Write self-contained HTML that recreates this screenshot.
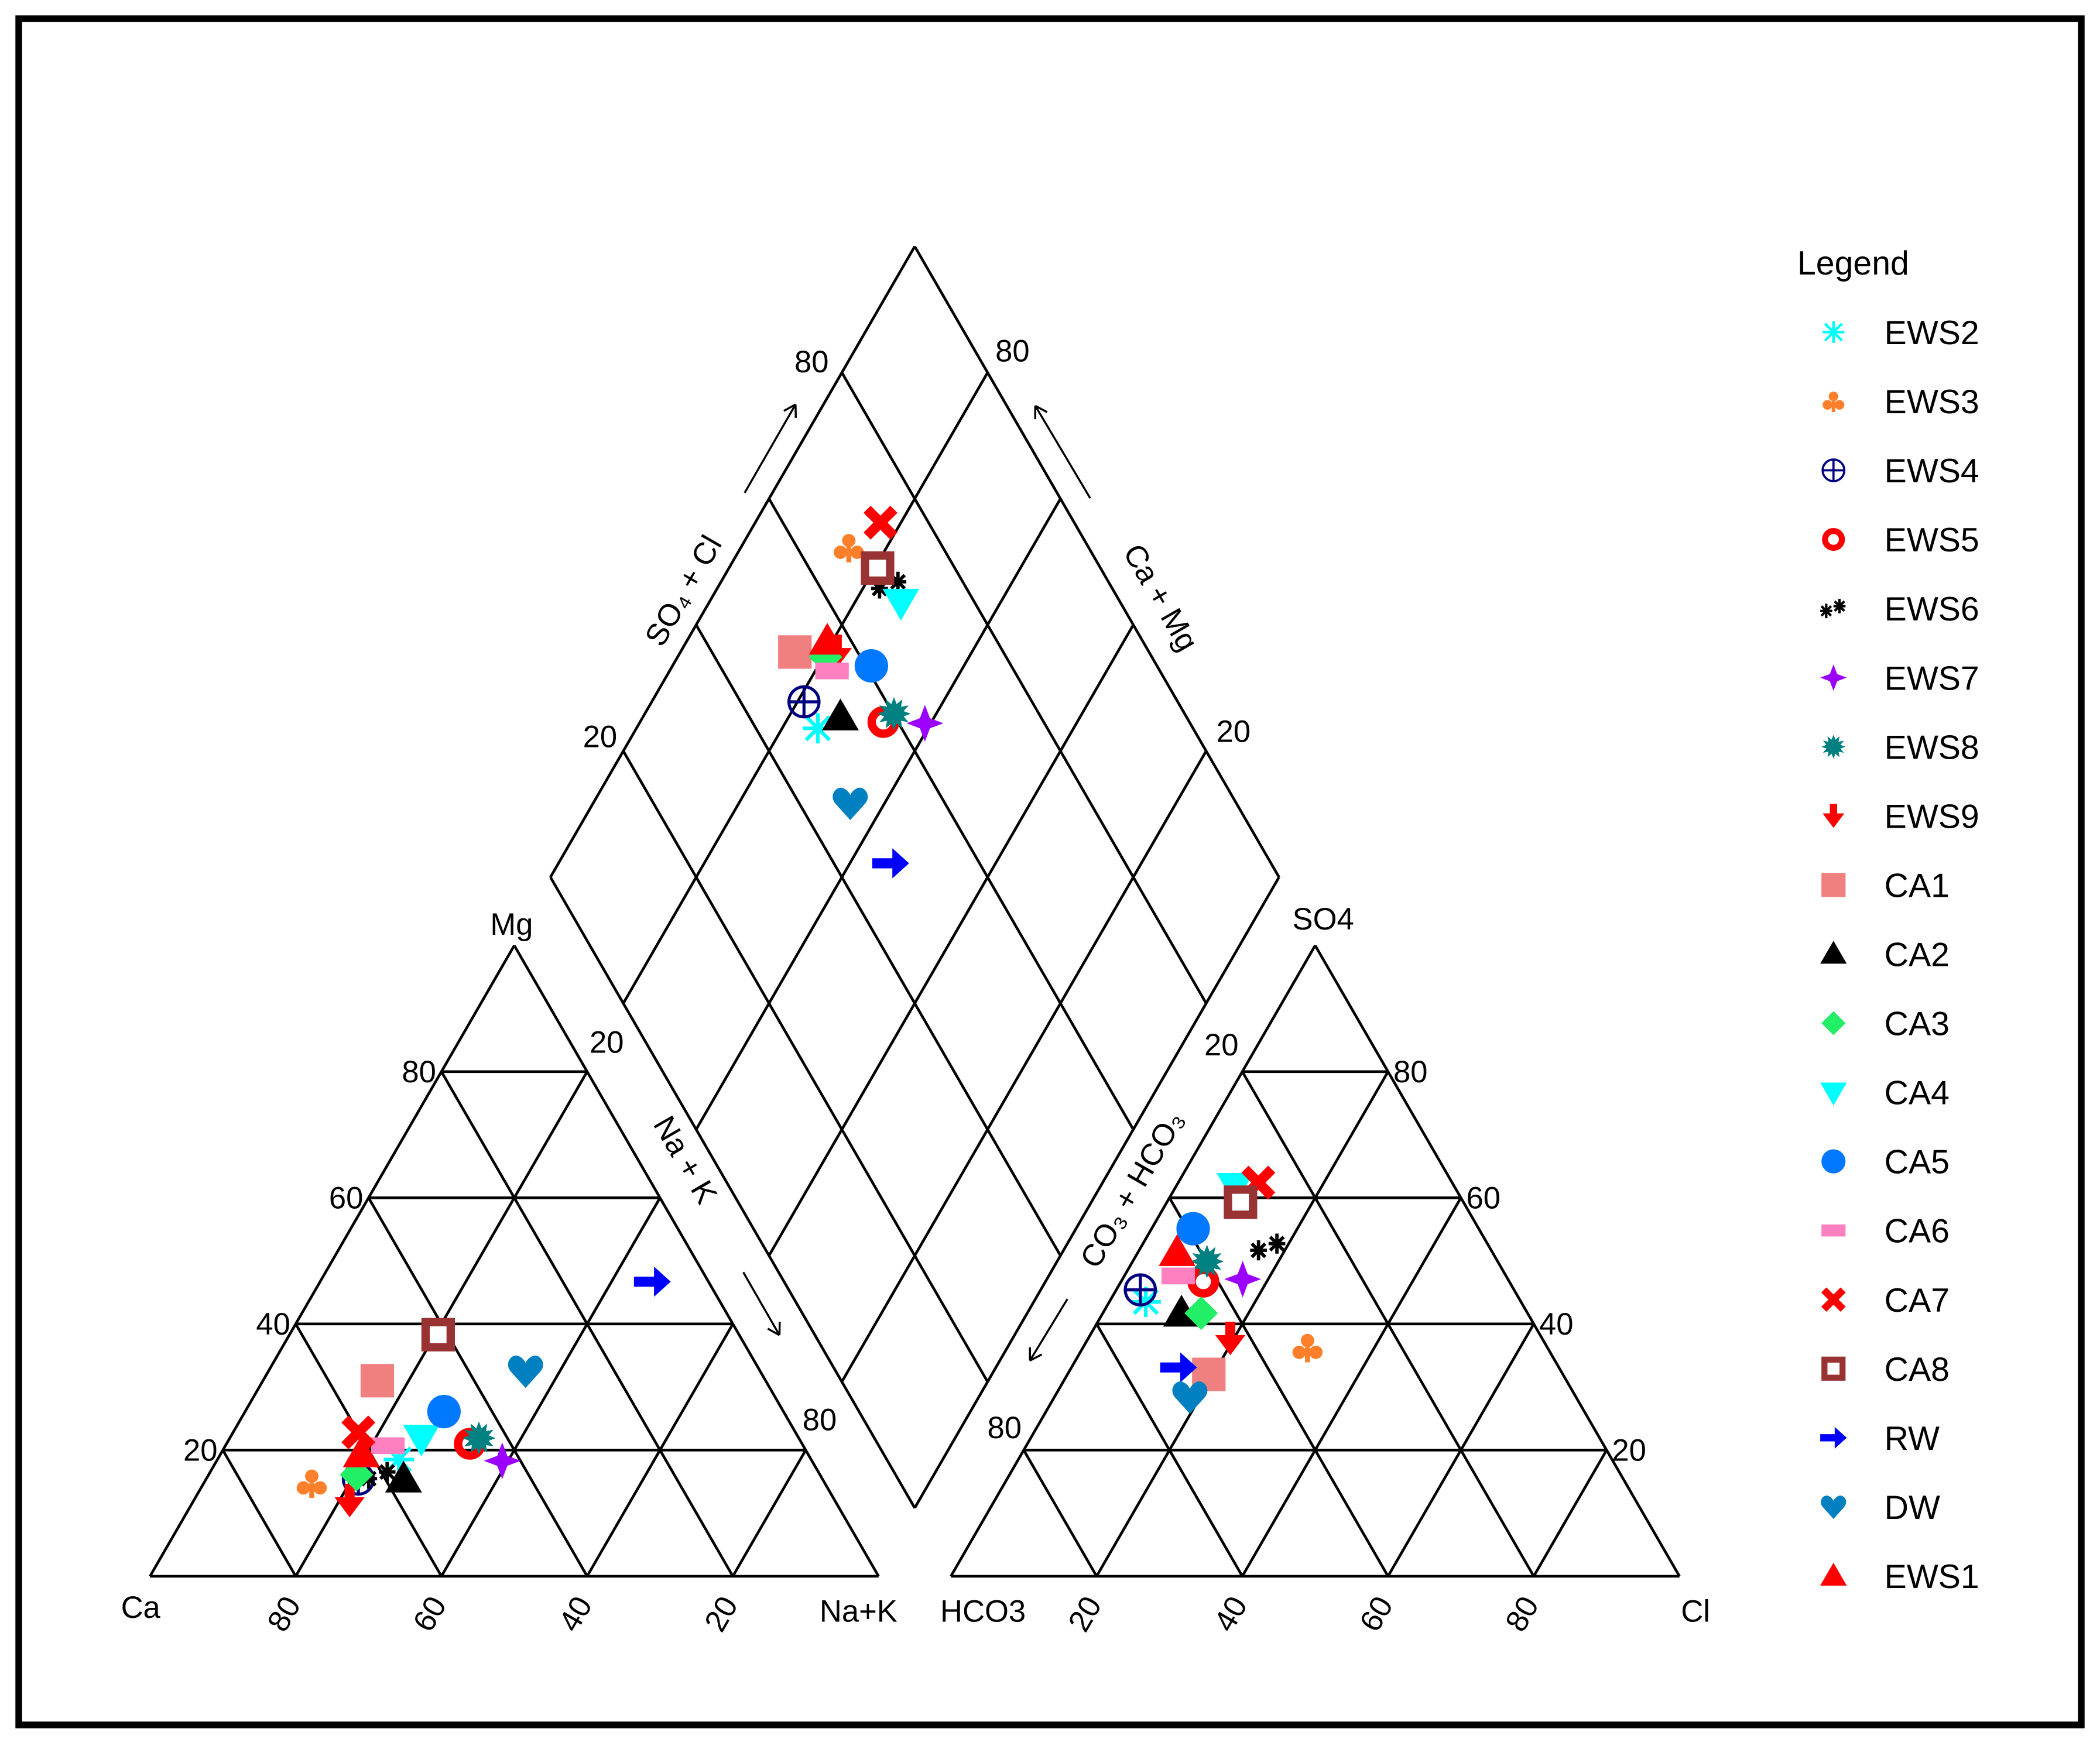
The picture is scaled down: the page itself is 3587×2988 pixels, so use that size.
<!DOCTYPE html>
<html><head><meta charset="utf-8"><style>
html,body{margin:0;padding:0;background:#fff}
svg{display:block}
text{font-family:"Liberation Sans",Arial,sans-serif;fill:#000}
</style></head><body>
<svg id="chart" width="3587" height="2988" viewBox="0 0 1568 1306" preserveAspectRatio="none" xmlns="http://www.w3.org/2000/svg">
<rect x="14" y="14" width="1540" height="1274" fill="#fff" stroke="#000" stroke-width="5"/>
<g id="grid" stroke="#000" stroke-width="2" fill="none"></g>
<g id="labels" font-size="23"></g>
<g id="marks"></g>
<g id="legend"></g>
</svg>
<script>
const sampleNames = ["EWS2","EWS3","EWS4","EWS5","EWS6","EWS7","EWS8","EWS9","CA1","CA2","CA3","CA4","CA5","CA6","CA7","CA8","RW","DW","EWS1"];
const mgPct  = [18.5,14.8,15.4,21.0,16.0,18.3,21.9,12.0,31.0,15.4,16.1,21.9,26.1,20.7,22.8,38.3,46.7,32.5,19.4];
const nakPct = [24.9,14.8,20.9,33.4,23.4,39.2,34.2,21.4,15.7,27.1,20.3,26.3,27.3,22.3,17.2,20.4,45.6,35.3,19.3];
const so4Pct = [43.5,36.3,45.4,46.7,52.2,47.1,49.9,37.7,32.0,41.7,41.7,61.8,55.1,47.6,62.4,59.3,33.1,28.4,51.3];
const clPct  = [5.0,30.8,3.3,11.3,17.5,16.5,10.2,19.5,19.4,10.8,13.5,8.1,5.7,7.4,11.0,10.1,14.7,18.6,5.4];
const markerTypes = ["xstar","club","circplus","ring","aster","star4","burst","downarrow","square","triangle","diamond","invtri","circle","pinkrect","cross","hollowsq","rightarrow","heart","triangle"];
const markerColors = ["#00ffff","#ff7f2a","#000080","#ff0000","#000000","#9b00ff","#008080","#ff0000","#f08080","#000000","#22ee66","#00ffff","#0078ff","#ff80c0","#ff0000","#993333","#0000ff","#0080c0","#ff0000"];
const tickValues = [20,40,60,80];

const NS="http://www.w3.org/2000/svg";
function cat(m,n){return [112+544*(n+m/2),1177-471*m];}
function an(s,c){return [710+544*(c+s/2),1177-471*s];}
function dia(a,n){return [411+272*(a+n),655-471*(a-n)];}
function el(tag,attrs,parent){const e=document.createElementNS(NS,tag);for(const k in attrs)e.setAttribute(k,attrs[k]);parent.appendChild(e);return e;}

const grid=document.getElementById('grid');
function line(p,q,name){const l=el('line',{x1:p[0],y1:p[1],x2:q[0],y2:q[1]},grid);

}
line(cat(0,0),cat(0,1),'cation-base');line(cat(0,0),cat(1,0),'cation-left');line(cat(0,1),cat(1,0),'cation-right');
line(an(0,0),an(0,1),'anion-base');line(an(0,0),an(1,0),'anion-left');line(an(0,1),an(1,0),'anion-right');
line(dia(0,0),dia(1,0),'diamond-edge');line(dia(1,0),dia(1,1),'diamond-edge');line(dia(1,1),dia(0,1),'diamond-edge');line(dia(0,1),dia(0,0),'diamond-edge');
for(const t of tickValues){const f=t/100;
 line(cat(f,0),cat(f,1-f),'cation-grid');line(cat(0,f),cat(1-f,f),'cation-grid');line(cat(0,1-f),cat(1-f,0),'cation-grid');
 line(an(f,0),an(f,1-f),'anion-grid');line(an(0,f),an(1-f,f),'anion-grid');line(an(0,1-f),an(1-f,0),'anion-grid');
 line(dia(f,0),dia(f,1),'diamond-grid');line(dia(0,f),dia(1,f),'diamond-grid');}

const labels=document.getElementById('labels');
function txt(x,y,s,name,rot,anchor){const t=el('text',{x:x,y:y,'text-anchor':anchor||'middle'},labels);t.textContent=s;
if(rot)t.setAttribute('transform','rotate('+rot+' '+x+' '+y+')');

return t;}
txt(382,698,'Mg','mg-apex-label');txt(105,1208,'Ca','ca-label');txt(641,1211,'Na+K','nak-label');
for(const t of tickValues){const p=cat(t/100,0);txt(p[0]-4,p[1]+8,String(t),'mg-tick-label',0,'end');
 const q=cat(0,1-t/100);txt(q[0]-2,q[1]+32,String(t),'ca-tick-label',-60);}
txt(988,694,'SO4','so4-apex-label');txt(734,1211,'HCO3','hco3-label');txt(1266,1211,'Cl','cl-label');
for(const t of tickValues){const p=an(t/100,1-t/100);txt(p[0]+4,p[1]+8,String(t),'so4-tick-label',0,'start');
 const q=an(0,t/100);txt(q[0]-2,q[1]+32,String(t),'cl-tick-label',-60);}
txt(606,278,'80','so4cl-tick');txt(448,558,'20','so4cl-tick');txt(756,270,'80','camg-tick');txt(921,554,'20','camg-tick');
txt(453,786,'20','nak-diamond-tick');txt(612,1068,'80','nak-diamond-tick');txt(912,788,'20','co3-diamond-tick');txt(750,1074,'80','co3-diamond-tick');
txt(517,445,'SO\u2084 + Cl','so4-cl-axis-title',-60);txt(860,450,'Ca + Mg','ca-mg-axis-title',60);
txt(505,870,'Na + K','na-k-axis-title',60);txt(852,892,'CO\u2083 + HCO\u2083','co3-hco3-axis-title',-60);
function arrow(x1,y1,x2,y2,name){const g=el('g',{stroke:'#000','stroke-width':1.5,fill:'none'},labels);


el('line',{x1:x1,y1:y1,x2:x2,y2:y2},g);const a=Math.atan2(y2-y1,x2-x1);
for(const d of [2.6,-2.6]){el('line',{x1:x2,y1:y2,x2:x2+10*Math.cos(a+d),y2:y2+10*Math.sin(a+d)},g);}}
arrow(556,368,594,302,'so4-cl-arrow');arrow(814,372,773,303,'ca-mg-arrow');arrow(555,950,582,997,'na-k-arrow');arrow(797,970,769,1016,'co3-hco3-arrow');

function marker(parent,type,color,x,y,s){const g=el('g',{transform:'translate('+x+' '+y+') scale('+s+')'},parent);
 const f={fill:color};
 switch(type){
 case 'xstar':el('path',{d:'M-7,-7L7,7M7,-7L-7,7M0,-9V9M-9,0H9',stroke:color,'stroke-width':2.2,fill:'none'},g);break;
 case 'club':el('circle',Object.assign({cx:0,cy:-4,r:4},f),g);el('circle',Object.assign({cx:-5,cy:3,r:4},f),g);el('circle',Object.assign({cx:5,cy:3,r:4},f),g);el('rect',Object.assign({x:-1.5,y:0,width:3,height:9},f),g);break;
 case 'circplus':el('circle',{r:9,fill:'none',stroke:color,'stroke-width':1.8},g);el('path',{d:'M-9,0H9M0,-9V9',stroke:color,'stroke-width':1.8},g);break;
 case 'ring':el('circle',{r:7,fill:'none',stroke:color,'stroke-width':5},g);break;
 case 'aster':el('path',{d:'M-6,-4L-6,8M-11,2H-1M-10,-2L-2,6M-2,-2L-10,6M5,-8V4M0,-2H10M1,-6L9,2M9,-6L1,2',stroke:color,'stroke-width':2,fill:'none'},g);break;
 case 'star4':el('path',Object.assign({d:'M0,-11L3,-3L11,0L3,3L0,11L-3,3L-11,0L-3,-3Z'},f),g);break;
 case 'burst':{let d='';for(let i=0;i<24;i++){const r=i%2?6:10,a=i*Math.PI/12;d+=(i?'L':'M')+(r*Math.cos(a)).toFixed(1)+','+(r*Math.sin(a)).toFixed(1);}el('path',Object.assign({d:d+'Z'},f),g);break;}
 case 'downarrow':el('path',Object.assign({d:'M-3,-10H3V-2H9L0,10L-9,-2H-3Z'},f),g);break;
 case 'square':el('rect',Object.assign({x:-10,y:-10,width:20,height:20},f),g);break;
 case 'triangle':el('path',Object.assign({d:'M0,-11L11,8H-11Z'},f),g);break;
 case 'diamond':el('path',Object.assign({d:'M0,-10L10,0L0,10L-10,0Z'},f),g);break;
 case 'invtri':el('path',Object.assign({d:'M-11,-8H11L0,11Z'},f),g);break;
 case 'circle':el('circle',Object.assign({r:10},f),g);break;
 case 'pinkrect':el('rect',Object.assign({x:-10,y:-5,width:20,height:10},f),g);break;
 case 'cross':el('path',{d:'M-8,-8L8,8M8,-8L-8,8',stroke:color,'stroke-width':6,fill:'none'},g);break;
 case 'hollowsq':el('rect',{x:-7.5,y:-7.5,width:15,height:15,fill:'#fff',stroke:color,'stroke-width':5},g);break;
 case 'rightarrow':el('path',Object.assign({d:'M-11,-3H1V-9L11,0L1,9V3H-11Z'},f),g);break;
 case 'heart':el('path',Object.assign({d:'M0,10L-9,0C-13,-5 -8,-11 -4,-9C-2,-8 -1,-7 0,-5C1,-7 2,-8 4,-9C8,-11 13,-5 9,0Z'},f),g);break;
 }
 return g;}

const marks=document.getElementById('marks');
for(let i=0;i<sampleNames.length;i++){
 const m=mgPct[i]/100,n=nakPct[i]/100,s=so4Pct[i]/100,c=clPct[i]/100;
 const pts=[cat(m,n),an(s,c),dia(s+c,n)];
 const where=['cation','anion','diamond'];
 for(let k=0;k<3;k++){
  const g=marker(marks,markerTypes[i],markerColors[i],pts[k][0],pts[k][1],1.25);
  
  
 }
}
const legend=document.getElementById('legend');
const lt=el('text',{x:1342,y:205,'font-size':25},legend);lt.textContent='Legend';


for(let i=0;i<sampleNames.length;i++){
 const y=248+51.6*i;
 const g=el('g',{},legend);
 
 
 marker(g,markerTypes[i],markerColors[i],1369,y,0.9);
 const t=el('text',{x:1407,y:y+9,'font-size':25},g);t.textContent=sampleNames[i];
}
</script>
</body></html>
